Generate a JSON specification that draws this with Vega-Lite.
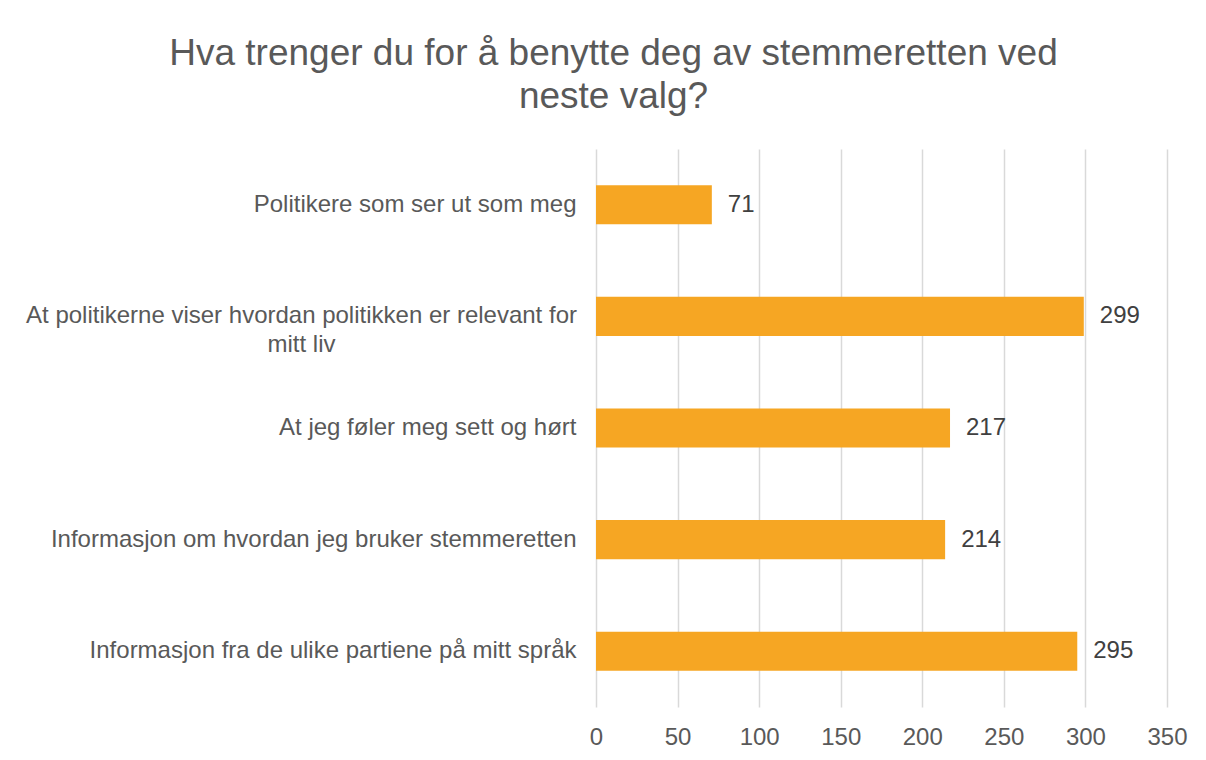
{
  "$schema": "https://vega.github.io/schema/vega-lite/v6.json",
  "autosize": {"type": "none"},
  "padding": {"left": 596, "top": 149, "right": 39, "bottom": 53},
  "width": 571,
  "height": 558,
  "background": "white",
  "title": {
    "text": ["Hva trenger du for å benytte deg av stemmeretten ved", "neste valg?"],
    "anchor": "middle",
    "frame": "group",
    "dx": -268,
    "offset": 33,
    "font": "Liberation Sans",
    "fontSize": 37,
    "fontWeight": "normal",
    "color": "#595959",
    "lineHeight": 43
  },
  "data": {
    "values": [
      {"kategori": "Politikere som ser ut som meg", "antall": 71},
      {"kategori": "At politikerne viser hvordan politikken er relevant for mitt liv", "antall": 299},
      {"kategori": "At jeg føler meg sett og hørt", "antall": 217},
      {"kategori": "Informasjon om hvordan jeg bruker stemmeretten", "antall": 214},
      {"kategori": "Informasjon fra de ulike partiene på mitt språk", "antall": 295}
    ]
  },
  "encoding": {
    "y": {
      "field": "kategori",
      "type": "nominal",
      "sort": null,
      "scale": {"paddingInner": 0.65, "paddingOuter": 0.325},
      "axis": {
        "title": null,
        "domain": false,
        "ticks": false,
        "tickSize": 0,
        "grid": false,
        "labelFont": "Liberation Sans",
        "labelFontSize": 24,
        "labelColor": "#595959",
        "labelLimit": 0,
        "labelLineHeight": 29,
        "labelBaseline": "middle",
        "labelAlign": {"condition": {"test": "datum.value == 'At politikerne viser hvordan politikken er relevant for mitt liv'", "value": "center"}, "value": "right"},
        "labelPadding": {"condition": {"test": "datum.value == 'At politikerne viser hvordan politikken er relevant for mitt liv'", "value": 295}, "value": 20},
        "labelExpr": "datum.value == 'At politikerne viser hvordan politikken er relevant for mitt liv' ? ['At politikerne viser hvordan politikken er relevant for', 'mitt liv'] : datum.value"
      }
    },
    "x": {
      "field": "antall",
      "type": "quantitative",
      "scale": {"domain": [0, 350], "nice": false},
      "axis": {
        "title": null,
        "values": [0, 50, 100, 150, 200, 250, 300, 350],
        "domain": false,
        "ticks": false,
        "tickSize": 0,
        "grid": true,
        "gridColor": "#D9D9D9",
        "gridWidth": 1.5,
        "labelFont": "Liberation Sans",
        "labelFontSize": 24,
        "labelColor": "#595959",
        "labelPadding": 18,
        "labelFlush": false,
        "labelOverlap": false
      }
    }
  },
  "layer": [
    {"mark": {"type": "bar", "color": "#F6A623"}},
    {
      "mark": {"type": "text", "align": "left", "baseline": "middle", "dx": 16, "font": "Liberation Sans", "fontSize": 24, "color": "#404040"},
      "encoding": {"text": {"field": "antall", "type": "quantitative"}}
    }
  ],
  "config": {"view": {"stroke": null}}
}
